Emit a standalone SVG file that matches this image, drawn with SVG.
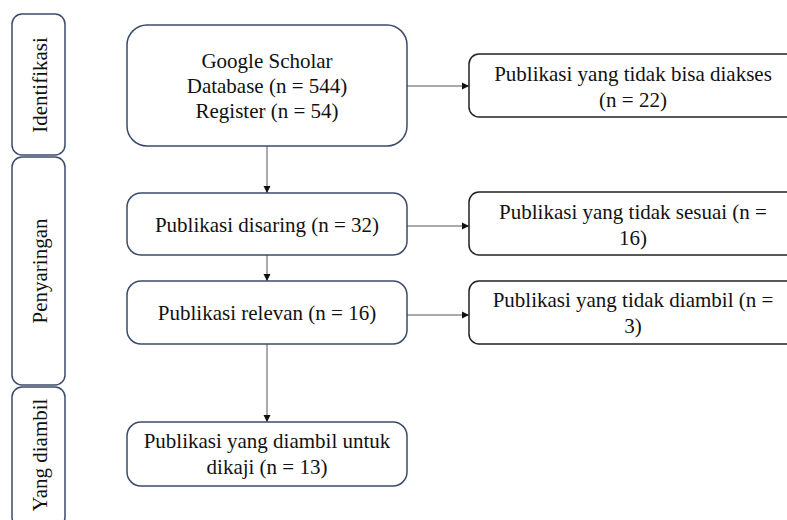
<svg xmlns="http://www.w3.org/2000/svg" width="787" height="520" viewBox="0 0 787 520">
<style>
text{font-family:'Liberation Serif','DejaVu Serif',serif;font-size:21px;fill:#111;text-anchor:middle}
.side{fill:#fff;stroke:#3b4a6b;stroke-width:1.5}
.main{fill:#fff;stroke:#3b4a6b;stroke-width:1.5}
.out{fill:#fff;stroke:#222;stroke-width:1.5}
.con{stroke:#555;stroke-width:1;fill:none;marker-end:url(#ah)}
</style>
<defs>
<marker id="ah" markerWidth="8" markerHeight="8" refX="7" refY="4" orient="auto" markerUnits="userSpaceOnUse">
<path d="M0,0.5 L7,4 L0,7.5 Z" fill="#111"/>
</marker>
</defs>
<rect width="787" height="520" fill="#fff"/>
<g id="side-identifikasi">
<rect class="side" x="12" y="14" width="53" height="141" rx="10"/>
<text transform="translate(47,85) rotate(-90)">Identifikasi</text>
</g>
<g id="side-penyaringan">
<rect class="side" x="12" y="157" width="53" height="228" rx="10"/>
<text transform="translate(47,271) rotate(-90)">Penyaringan</text>
</g>
<g id="side-diambil">
<rect class="side" x="12" y="387" width="53" height="140" rx="10"/>
<text transform="translate(47,455) rotate(-90)">Yang diambil</text>
</g>
<g id="connectors">
<line class="con" x1="267" y1="146" x2="267" y2="193"/>
<line class="con" x1="267" y1="255" x2="267" y2="281"/>
<line class="con" x1="267" y1="344" x2="267" y2="422"/>
<line class="con" x1="407" y1="86" x2="469" y2="86"/>
<line class="con" x1="407" y1="226" x2="469" y2="226"/>
<line class="con" x1="407" y1="315" x2="469" y2="315"/>
</g>
<g id="n-google">
<rect class="main" x="127" y="25" width="280" height="121" rx="20"/>
<text x="267" y="68">Google Scholar</text>
<text x="267" y="93">Database (n = 544)</text>
<text x="267" y="118">Register (n = 54)</text>
</g>
<g id="n-disaring">
<rect class="main" x="127" y="193" width="280" height="62" rx="14"/>
<text x="267" y="232">Publikasi disaring (n = 32)</text>
</g>
<g id="n-relevan">
<rect class="main" x="127" y="281" width="280" height="63" rx="14"/>
<text x="267" y="320">Publikasi relevan (n = 16)</text>
</g>
<g id="n-diambil">
<rect class="main" x="127" y="422" width="280" height="64" rx="14"/>
<text x="267" y="448">Publikasi yang diambil untuk</text>
<text x="267" y="474">dikaji (n = 13)</text>
</g>
<g id="n-tidak-akses">
<rect class="out" x="469" y="54" width="330" height="63" rx="10"/>
<text x="633" y="81">Publikasi yang tidak bisa diakses</text>
<text x="633" y="107">(n = 22)</text>
</g>
<g id="n-tidak-sesuai">
<rect class="out" x="469" y="192" width="330" height="63" rx="10"/>
<text x="633" y="219">Publikasi yang tidak sesuai (n =</text>
<text x="633" y="245">16)</text>
</g>
<g id="n-tidak-diambil">
<rect class="out" x="469" y="281" width="330" height="63" rx="10"/>
<text x="633" y="307">Publikasi yang tidak diambil (n =</text>
<text x="633" y="333">3)</text>
</g>
</svg>
